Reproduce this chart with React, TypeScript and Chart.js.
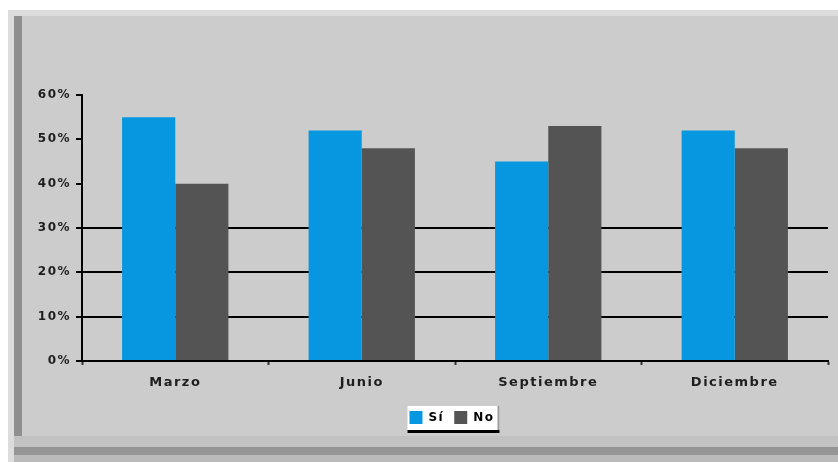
import React, { useEffect, useRef } from "react";
import { Chart, registerables } from "chart.js";

Chart.register(...registerables);

const categories = ["Marzo", "Junio", "Septiembre", "Diciembre"];
const siValues = [55, 52, 45, 52];
const noValues = [40, 48, 53, 48];
const yTicks = [0, 10, 20, 30, 40, 50, 60];
const seriesNames = ["Sí", "No"];
const visibleGridValues = [10, 20, 30];

const FONT = "'DejaVu Sans', 'Liberation Sans', Arial, sans-serif";
const SPACING = "1.5px";

function setSpacing(chart: any) {
  try {
    (chart.ctx as any).letterSpacing = SPACING;
  } catch (e) {}
}

const legendBoxPlugin = {
  id: "legendBox",
  beforeUpdate(chart: any) {
    setSpacing(chart);
  },
  beforeLayout(chart: any) {
    setSpacing(chart);
  },
  afterLayout(chart: any) {
    const lg = chart.legend;
    if (lg) {
      lg.left += 38;
      lg.right += 38;
    }
  },
  beforeDraw(chart: any) {
    setSpacing(chart);
    const ctx = chart.ctx;
    const lg = chart.legend;
    if (!lg || !lg.legendHitBoxes || !lg.legendHitBoxes.length) return;
    const hb = lg.legendHitBoxes;
    let minX = Infinity, maxX = -Infinity, top = Infinity, bottom = -Infinity;
    hb.forEach((h: any) => {
      minX = Math.min(minX, h.left);
      maxX = Math.max(maxX, h.left + h.width);
      top = Math.min(top, h.top);
      bottom = Math.max(bottom, h.top + h.height);
    });
    ctx.save();
    const x0 = minX - 2, x1 = maxX + 5, y0 = top - 5, y1 = bottom + 9;
    ctx.fillStyle = "#ffffff";
    ctx.fillRect(x0, y0, x1 - x0, y1 - y0);
    ctx.fillStyle = "#000000";
    ctx.fillRect(x0, y1 - 3, x1 - x0, 3);
    ctx.fillStyle = "#9a9a9a";
    ctx.fillRect(x1 - 2, y0, 2, y1 - y0 - 3);
    ctx.restore();
  },
};

export default function App() {
  const ref = useRef<HTMLCanvasElement>(null);

  useEffect(() => {
    document.body.style.margin = "0";
    const canvas = ref.current;
    if (!canvas) return;
    const chart = new Chart(canvas, {
      type: "bar",
      data: {
        labels: categories,
        datasets: [
          {
            label: seriesNames[0],
            data: siValues,
            backgroundColor: "#0797e0",
            borderWidth: 0,
          },
          {
            label: seriesNames[1],
            data: noValues,
            backgroundColor: "#545454",
            borderWidth: 0,
          },
        ],
      },
      options: {
        animation: false,
        responsive: false,
        maintainAspectRatio: false,
        layout: { padding: { left: 0, right: 10, top: 95, bottom: 28 } },
        datasets: {
          bar: { categoryPercentage: 0.57, barPercentage: 1 },
        },
        plugins: {
          tooltip: { enabled: false },
          title: { display: false },
          legend: {
            display: true,
            position: "bottom",
            labels: {
              boxWidth: 13,
              boxHeight: 13,
              padding: 10,
              color: "#000",
              font: { family: FONT, size: 12, weight: "bold" },
            },
          },
        },
        scales: {
          x: {
            offset: true,
            afterFit: (s: any) => {
              s.height = 40;
            },
            grid: {
              offset: true,
              drawOnChartArea: false,
              drawTicks: true,
              tickLength: 4,
              tickColor: "#333",
              tickWidth: 2,
            },
            border: { display: true, color: "#000", width: 2 },
            ticks: {
              color: "#1e1e1e",
              padding: 10,
              font: { family: FONT, size: 13, weight: "bold" },
            },
          },
          y: {
            min: 0,
            max: 60,
            afterFit: (s: any) => {
              s.width = 82;
            },
            afterBuildTicks: (s: any) => {
              s.ticks = yTicks.map((v) => ({ value: v }));
            },
            grid: {
              color: (c: any) =>
                c.tick && visibleGridValues.includes(c.tick.value) ? "#000" : "rgba(0,0,0,0)",
              lineWidth: 2,
              tickLength: 6,
              tickColor: "#000",
              tickWidth: 2,
            },
            border: { display: true, color: "#000", width: 2 },
            ticks: {
              color: "#1e1e1e",
              padding: 5,
              font: { family: FONT, size: 12, weight: "bold" },
              callback: (v: any) => v + "%",
            },
          },
        },
      },
      plugins: [legendBoxPlugin],
    });
    return () => chart.destroy();
  }, []);

  return (
    <div
      style={{
        position: "fixed",
        left: 0,
        top: 0,
        width: 838,
        height: 462,
        background: "#ffffff",
        overflow: "hidden",
      }}
    >
      <div
        style={{
          position: "absolute",
          left: 8,
          top: 10,
          width: 830,
          height: 452,
          background: "#dcdcdc",
        }}
      />
      <div
        style={{
          position: "absolute",
          left: 14,
          top: 16,
          width: 824,
          height: 446,
          background: "#cccccc",
          borderLeft: "8px solid #8f8f8f",
          boxSizing: "border-box",
        }}
      />
      <div
        style={{
          position: "absolute",
          left: 14,
          top: 436,
          width: 824,
          height: 26,
          background:
            "linear-gradient(to bottom, #c2c2c2 0px, #c2c2c2 11px, #959595 11px, #959595 19px, #bababa 19px)",
        }}
      />
      <canvas
        ref={ref}
        width={838}
        height={462}
        style={{ position: "absolute", left: 0, top: 0, width: 838, height: 462 }}
      />
    </div>
  );
}
